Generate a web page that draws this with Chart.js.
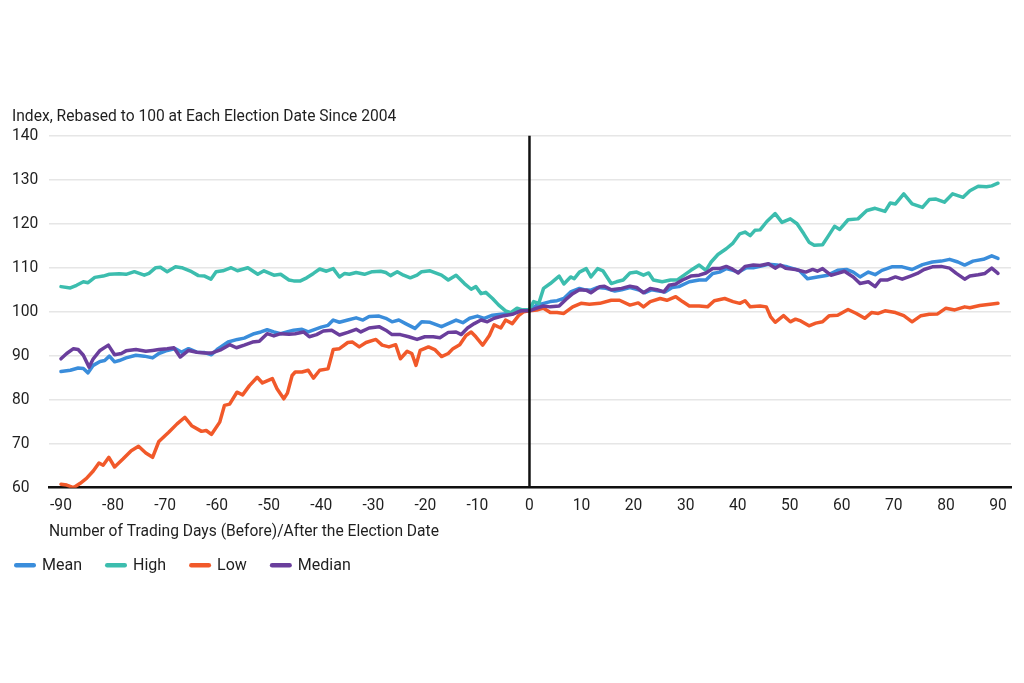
<!DOCTYPE html>
<html>
<head>
<meta charset="utf-8">
<script src="https://cdn.jsdelivr.net/npm/chart.js@4.4.1/dist/chart.umd.min.js"></script>
<style>
  html, body { margin: 0; padding: 0; background: #ffffff; }
  #wrap { width: 1024px; height: 683px; position: relative; }
</style>
</head>
<body>
<div id="wrap"><canvas id="c" width="1024" height="683"></canvas></div>
<script>
// ---- Data ----
const titleText = 'Index, Rebased to 100 at Each Election Date Since 2004';
const xTitle = 'Number of Trading Days (Before)/After the Election Date';
const seriesNames = ['Mean', 'High', 'Low', 'Median'];
const xTicks = [-90, -80, -70, -60, -50, -40, -30, -20, -10, 0, 10, 20, 30, 40, 50, 60, 70, 80, 90];
const yTicks = [60, 70, 80, 90, 100, 110, 120, 130, 140];

const meanDays = [-90,-88.2,-86.7,-85.7,-84.8,-83.8,-82.5,-81.6,-80.7,-79.7,-78.8,-77.5,-75.6,-74,-72.4,-71.2,-69.6,-68,-66.8,-65.5,-63.9,-62.4,-61.1,-59.8,-57.9,-56.1,-54.8,-52.9,-51.6,-50.4,-49.1,-47.8,-46.6,-45.3,-43.7,-42.5,-41.2,-40,-38.7,-37.7,-36.5,-34.9,-33.3,-32,-30.8,-28.9,-27.6,-26.4,-25.1,-23.8,-22,-20.7,-19.1,-16.9,-15.6,-14.1,-12.8,-11.5,-10,-8.7,-7.1,-5.5,-3.6,-2.4,-1.1,0,
  1.4,2.7,4,5.3,6.6,7.9,9.6,10.5,11.8,13.1,14.7,16.4,17.7,19.3,20.9,22.2,23.5,24.8,26.1,27.4,28.7,30.7,32.6,33.9,35.2,36.5,37.8,39.1,40.1,41.7,43,44.3,45.9,47.5,49.5,51.8,53.4,55.3,57.3,59.2,60.9,62.2,63.5,65.1,66.4,67.7,69.6,71.6,73.5,75.5,77.4,79.1,80.7,82.3,83.6,85.2,87.2,88.8,90];
const meanVals = [86.4,86.7,87.2,87.1,86.1,87.8,88.7,88.9,89.9,88.6,88.9,89.5,90.1,89.9,89.5,90.5,91.2,91.6,90.8,91.6,90.8,90.7,90.2,91.6,93.1,93.7,94,95,95.4,95.9,95.4,95,95.4,95.8,96,95.4,96,96.5,96.9,98.1,97.6,98.1,98.6,98.1,98.9,99,98.5,97.7,98.1,97.3,96.2,97.7,97.6,96.6,97.3,98.1,97.5,98.5,99,98.5,99.2,99.4,99.6,100,100.4,100.4,
  101.5,101.9,102.3,102.5,103,104.5,105.3,105,104.9,105.5,105.3,104.7,105,105.5,105,104.3,105,104.7,104.5,105.5,105.7,106.8,107.2,107.2,108.7,109,109.8,109.4,109,110,110,110.3,110.8,110.6,110.2,109.4,107.5,107.9,108.3,109.4,109.6,109,107.9,109,108.4,109.4,110.2,110.2,109.6,110.7,111.3,111.5,111.9,111.3,110.6,111.5,111.9,112.7,112.1];

const highDays = [-90,-88.2,-87,-85.7,-84.8,-83.5,-81.9,-80.7,-78.8,-77.5,-75.9,-74,-73.1,-71.8,-70.9,-69.6,-68,-66.8,-64.9,-63.6,-62.4,-61.2,-60.2,-58.9,-57.3,-56.1,-54.1,-52.2,-51,-49.1,-47.8,-46.2,-45.3,-44,-42.8,-41.5,-40.3,-39,-37.7,-36.5,-35.5,-34.6,-33.3,-31.7,-30.2,-28.6,-27.6,-26.7,-25.4,-24.2,-22.9,-21.6,-20.7,-19.1,-17.8,-16.9,-15.6,-14.1,-12.5,-11.2,-10.3,-9.3,-8.4,-7.1,-5.9,-4.6,-3.6,-2.4,-1.4,0,
  0.8,1.8,2.7,4,5.7,6.6,7.9,8.6,9.6,10.9,11.8,13.1,14.1,15.7,16.7,18,19.3,20.6,21.9,22.9,23.8,25.5,27.1,28.4,29.7,31,32.6,33.9,34.9,36.2,37.8,39.1,40.4,41.4,42.4,43.3,44.3,45.6,47.2,48.5,50.1,51.4,52.7,53.7,54.7,56.3,57.3,58.6,59.6,61.2,63.1,64.8,66.4,68.3,69.3,70.3,71.9,73.5,75.5,76.8,78.1,79.7,81.3,83.3,84.6,86.2,87.8,88.8,90];
const highVals = [105.7,105.4,106,106.8,106.6,107.8,108.1,108.5,108.6,108.5,109.1,108.3,108.7,110,110.1,109.1,110.2,110,109.1,108.2,108.1,107.4,109.1,109.3,110,109.3,110,108.5,109.3,108.3,108.5,107.2,107,107,107.7,108.7,109.7,109.2,109.8,107.9,108.7,108.5,108.9,108.5,109.1,109.2,108.9,108.2,109.1,108.3,107.7,108.3,109.1,109.3,108.7,108.3,107.2,108.3,106.4,105.1,105.7,104.1,104.4,103,101.5,100.2,99.8,100.8,100.4,100.5,
  102.3,101.9,105.3,106.4,108.1,106.3,107.9,107.5,109,109.8,107.9,109.8,109.3,106.4,106.8,107.2,108.8,109,108.3,108.8,107.2,106.8,107.2,107.2,108.3,109.4,110.6,109.4,111.3,113,114.3,115.6,117.7,118.1,117.3,118.5,118.6,120.5,122.3,120.3,121.1,120,117.7,115.8,115.1,115.2,117,119.4,118.7,120.9,121.1,123,123.5,122.8,124.7,124.5,126.8,124.5,123.7,125.5,125.6,124.9,126.8,126,127.5,128.5,128.4,128.6,129.2];

const lowDays = [-90,-88.9,-87.6,-86.3,-85.1,-83.8,-82.7,-81.9,-80.8,-79.7,-78.1,-76.5,-75.1,-73.7,-72.4,-71.2,-69.3,-67.7,-66.2,-64.9,-63,-62.1,-61.1,-59.5,-58.6,-57.6,-56.2,-55.1,-53.8,-52.3,-51.3,-49.4,-48.5,-47.2,-46.5,-45.6,-45,-43.7,-42.5,-41.5,-40.3,-38.7,-37.7,-36.5,-34.9,-34,-32.7,-31.4,-29.5,-28.3,-27,-25.7,-24.8,-23.5,-22.6,-21.8,-21,-19.4,-18.2,-16.9,-15.6,-14.7,-13.4,-12.2,-11.2,-10.3,-9,-7.7,-6.8,-5.5,-4.6,-3.3,-2.1,-1.1,0,
  1.4,2.7,4,5.3,6.6,8.3,9.9,11.5,13.5,15.7,17.3,19.3,20.9,21.9,23.2,25.1,26.4,28.1,29.4,30.7,32.6,34.2,35.5,37.5,39.1,40.4,41.4,42.4,44.3,45.5,46.3,47.2,48.8,50.1,51.1,52.1,53.7,55,56.3,57.6,59.2,61.2,62.8,64.4,65.7,67,68.3,70.3,71.9,73.5,75.2,76.8,78.4,80,81.7,83.6,84.6,86.5,88.5,90];
const lowVals = [60.8,60.6,60,61,62.1,63.8,65.6,65.1,66.9,64.7,66.5,68.4,69.4,67.9,66.9,70.5,72.6,74.5,76,74.1,72.8,73,72.1,74.9,78.7,79,81.7,81.1,83.2,85.1,83.8,84.8,82.5,80.2,81.5,85.5,86.3,86.3,86.7,84.9,86.7,87,91.4,91.6,93,93.1,92,93,93.7,92.4,92,92.5,89.3,91,90.5,87.8,91.2,92,91.4,89.8,90.5,91.6,92.5,94.6,95.4,94.3,92.4,94.6,97,96.3,98.1,97.3,99.1,100,100.2,
  100.4,100.8,99.8,99.8,99.6,101.1,101.9,101.7,101.9,102.6,102.6,101.5,102,101.1,102.3,103,102.6,103.4,102.3,101.3,101.3,101.1,102.5,103,102.3,101.9,102.5,101.1,101.3,101.1,98.9,97.6,99.1,97.7,98.3,97.9,96.8,97.4,97.7,99.1,99.2,100.5,99.6,98.5,99.8,99.6,100.2,99.8,99.1,97.7,99.1,99.4,99.5,100.8,100.4,101.1,100.9,101.4,101.7,101.9];

const medianDays = [-90,-88.9,-87.6,-86.7,-85.7,-84.6,-83.8,-82.5,-80.9,-79.7,-78.4,-77.5,-75.6,-73.7,-72.4,-71.2,-69.6,-68.3,-67.1,-65.5,-63.9,-62.4,-61.1,-59.2,-57.6,-56.3,-54.8,-53.2,-51.9,-50.4,-49.1,-47.8,-46.2,-45,-43.4,-42.3,-40.9,-39.6,-38,-36.5,-34.9,-33.3,-32.4,-30.8,-28.9,-27.6,-26.4,-24.8,-23.2,-21.6,-20.1,-18.5,-17.2,-15.6,-14.1,-13.1,-11.9,-10.6,-9.3,-8.1,-6.8,-4.9,-3.3,-1.7,0,
  1.4,2.7,4,5.7,7,8.3,9.6,10.9,11.8,13.5,14.4,15.7,17.7,19.3,20.6,21.9,23.2,24.5,25.8,26.8,28.1,29.4,31,32.6,33.9,35.2,36.5,37.8,38.8,40.1,41.4,43,44.3,45.9,47.2,48.2,49.2,51.1,53.1,54.4,55.3,56.3,57.9,59.2,60.5,62.2,63.5,65.1,66.4,67.4,68.7,70.3,71.6,73.2,74.5,75.8,77.4,79.1,80.7,82,83.6,84.6,86.2,87.5,88.8,90];
const medianVals = [89.3,90.5,91.6,91.4,90.1,87.4,89.3,91.2,92.4,90.2,90.5,91.1,91.4,91,91.2,91.4,91.6,91.8,89.7,91.2,90.8,90.6,90.6,91.4,92.5,91.8,92.4,93.1,93.3,95,94.5,95,94.9,95,95.4,94.3,94.8,95.6,95.8,94.7,95.3,96,95.4,96.3,96.6,95.8,94.8,94.8,94.3,93.7,94.3,94.3,94.1,95.3,95.4,94.8,96.3,97.3,98.1,97.7,98.5,99.1,99.4,100.2,100.2,
  100.8,101.3,101.1,101.3,102.8,104.1,105,104.9,104.3,105.7,105.8,105,105.3,105.8,105.5,104.3,105.3,105,104.5,106,106.3,107.2,108.1,108.3,108.8,109.8,109.8,110.3,109.8,108.8,110.3,110.6,110.5,110.9,109.9,110.6,109.9,109.6,109,109.6,109.2,109.8,108.3,108.7,109.2,107.9,106.4,106.8,105.7,107.2,107.2,107.9,107.4,108.1,108.7,109.6,110.2,110.3,109.9,108.7,107.4,108.1,108.4,108.7,109.9,108.7];

const colors = { Mean: '#3a8ddb', High: '#3cbdae', Low: '#f1592a', Median: '#6a3e9c' };

function pts(days, vals) { return days.map((d, i) => ({ x: d, y: vals[i] })); }

const FONT = 'Roboto, "Liberation Sans", sans-serif';
const TEXT = '#1f1f1f';
const FS = 15.6;

const zeroLine = {
  id: 'zeroLine',
  afterDatasetsDraw(chart) {
    const x = chart.scales.x.getPixelForValue(0);
    const { top, bottom } = chart.chartArea;
    const ctx = chart.ctx;
    ctx.save();
    ctx.strokeStyle = '#111111';
    ctx.lineWidth = 2.5;
    ctx.beginPath();
    ctx.moveTo(x, top);
    ctx.lineTo(x, bottom);
    ctx.stroke();
    ctx.restore();
  }
};

// Custom legend row placed under the x-axis title
const legendRow = {
  id: 'legendRow',
  afterDraw(chart) {
    const ctx = chart.ctx;
    const y = 565;
    let x = 14;
    ctx.save();
    ctx.font = '16px ' + FONT;
    ctx.textBaseline = 'middle';
    ctx.textAlign = 'left';
    chart.data.datasets.forEach(d => {
      ctx.fillStyle = d.borderColor;
      ctx.beginPath();
      if (ctx.roundRect) ctx.roundRect(x, y - 2, 22, 4.5, 2.2); else ctx.rect(x, y - 2, 22, 4.5);
      ctx.fill();
      x += 22 + 6;
      ctx.fillStyle = TEXT;
      ctx.fillText(d.label, x, y + 0.5);
      x += ctx.measureText(d.label).width + 23;
    });
    ctx.restore();
  }
};

const ds = (name, days, vals, order) => ({
  label: name,
  data: pts(days, vals),
  borderColor: colors[name],
  backgroundColor: colors[name],
  borderWidth: 3.5,
  pointRadius: 0,
  tension: 0,
  fill: false,
  order: order,
  borderJoinStyle: 'round',
  borderCapStyle: 'round'
});

new Chart(document.getElementById('c'), {
  type: 'line',
  data: {
    datasets: [
      ds(seriesNames[0], meanDays, meanVals, 3),
      ds(seriesNames[1], highDays, highVals, 2),
      ds(seriesNames[2], lowDays, lowVals, 4),
      ds(seriesNames[3], medianDays, medianVals, 1)
    ]
  },
  options: {
    responsive: false,
    animation: false,
    devicePixelRatio: 1,
    layout: { padding: { left: 12, right: 13, top: 108, bottom: 143 } },
    plugins: {
      title: {
        display: true,
        text: titleText,
        align: 'start',
        color: TEXT,
        font: { family: FONT, size: FS, weight: 'normal' },
        padding: { top: 0, bottom: 9 }
      },
      legend: { display: false },
      tooltip: { enabled: false }
    },
    scales: {
      x: {
        type: 'linear',
        min: -92.3,
        max: 92.5,
        afterBuildTicks(scale) { scale.ticks = xTicks.map(v => ({ value: v })); },
        grid: { display: false, drawTicks: false },
        border: { display: true, color: '#111111', width: 2.5 },
        ticks: {
          color: TEXT,
          font: { family: FONT, size: FS },
          padding: 9,
          maxRotation: 0,
          autoSkip: false,
          callback: v => String(v)
        },
        title: {
          display: true,
          text: xTitle,
          align: 'start',
          color: TEXT,
          font: { family: FONT, size: FS, lineHeight: 1.0 },
          padding: { top: 0, bottom: 0 }
        }
      },
      y: {
        min: 60,
        max: 140,
        afterBuildTicks(scale) { scale.ticks = yTicks.map(v => ({ value: v })); },
        afterFit(scale) { scale.width = 37; },
        grid: { color: '#e6e6e6', lineWidth: 1.5, drawTicks: false },
        border: { display: false },
        ticks: {
          color: TEXT,
          font: { family: FONT, size: FS },
          crossAlign: 'far',
          padding: 0,
          callback: v => String(v)
        }
      }
    }
  },
  plugins: [zeroLine, legendRow]
});
</script>
</body>
</html>
